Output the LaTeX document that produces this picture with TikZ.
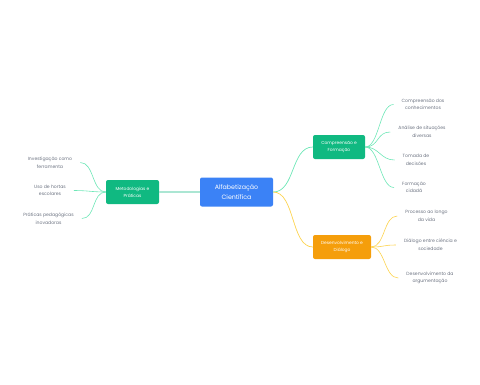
\documentclass[tikz,border=0pt]{standalone}
\usepackage{fontspec}
\setmainfont{Poppins}
\definecolor{rootblue}{HTML}{3B82F6}
\definecolor{mint}{HTML}{10B981}
\definecolor{amber}{HTML}{F59E0B}
\definecolor{mintline}{HTML}{6EE7B7}
\definecolor{amberline}{HTML}{FCD34D}
\definecolor{leafgray}{HTML}{6B7280}
\usetikzlibrary{positioning}
\tikzset{
  root/.style={
    fill=rootblue, rounded corners=2pt,
    minimum width=73bp, minimum height=29bp,
    font=\fontsize{6.3}{9.5}\selectfont,
    text=white, align=center
  },
  branch/.style={
    fill=#1, rounded corners=2pt,
    minimum height=24bp, inner xsep=2pt,
    font=\fontsize{4.4}{7}\selectfont,
    text=white, align=center
  },
  branch/.default=mint,
  leaf/.style={
    font=\fontsize{4.6}{7.6}\selectfont, text=leafgray,
    align=center, inner xsep=8bp, inner ysep=1bp
  },
  link/.style={draw=#1, line width=0.6pt},
  link/.default=mintline,
}

\begin{document}
\begin{tikzpicture}[x=1bp, y=-1bp]
    \useasboundingbox (0,0) rectangle (480,384);

    \node[root] (alfa) at (236.5,192) {Alfabetização\\Científica};

    \node[branch, minimum width=53bp] (metod) at (132.5,192)
      {Metodologias e\\Práticas};
    \node[branch, minimum width=52bp] (compr) at (339,147)
      {Compreensão e\\Formação};
    \node[branch=amber, minimum width=58bp] (desen) at (342,247)
      {Desenvolvimento e\\Diálogo};

    \node[leaf] (invest) at (50,162.5) {Investigação como\\ferramenta};
    \node[leaf] (hortas) at (50,190.5) {Uso de hortas\\escolares};
    \node[leaf] (prat) at (48.5,218.5) {Práticas pedagógicas\\inovadoras};

    \node[leaf] (conhec) at (423,104.5) {Compreensão dos\\conhecimentos};
    \node[leaf] (analise) at (422,132) {Análise de situações\\diversas};
    \node[leaf] (tomada) at (416,160) {Tomada de\\decisões};
    \node[leaf] (cidada) at (414,187.5) {Formação\\cidadã};

    \node[leaf] (vida) at (426.5,216) {Processo ao longo\\da vida};
    \node[leaf] (dialogo) at (430.5,245) {Diálogo entre ciência e\\sociedade};
    \node[leaf] (argum) at (430,278) {Desenvolvimento da\\argumentação};

    \draw[link, draw=mint!35, line width=1.4pt] (alfa.west) -- (metod.east);
    \draw[link, line width=0.7pt] (alfa.east) .. controls +(22,0) and +(-22,0) .. (compr.west);
    \draw[link=amberline, line width=0.7pt] (alfa.east) .. controls +(22,0) and +(-22,0) .. (desen.west);

    \foreach \leafname in {invest, hortas, prat}
      \draw[link] (metod.west) .. controls +(-14,0) and +(14,0) .. (\leafname.east);
    \foreach \leafname in {conhec, analise, tomada, cidada}
      \draw[link] (compr.east) .. controls +(14,0) and +(-14,0) .. (\leafname.west);
    \foreach \leafname in {vida, dialogo, argum}
      \draw[link=amberline] (desen.east) .. controls +(14,0) and +(-14,0) .. (\leafname.west);
  \end{tikzpicture}
\end{document}
